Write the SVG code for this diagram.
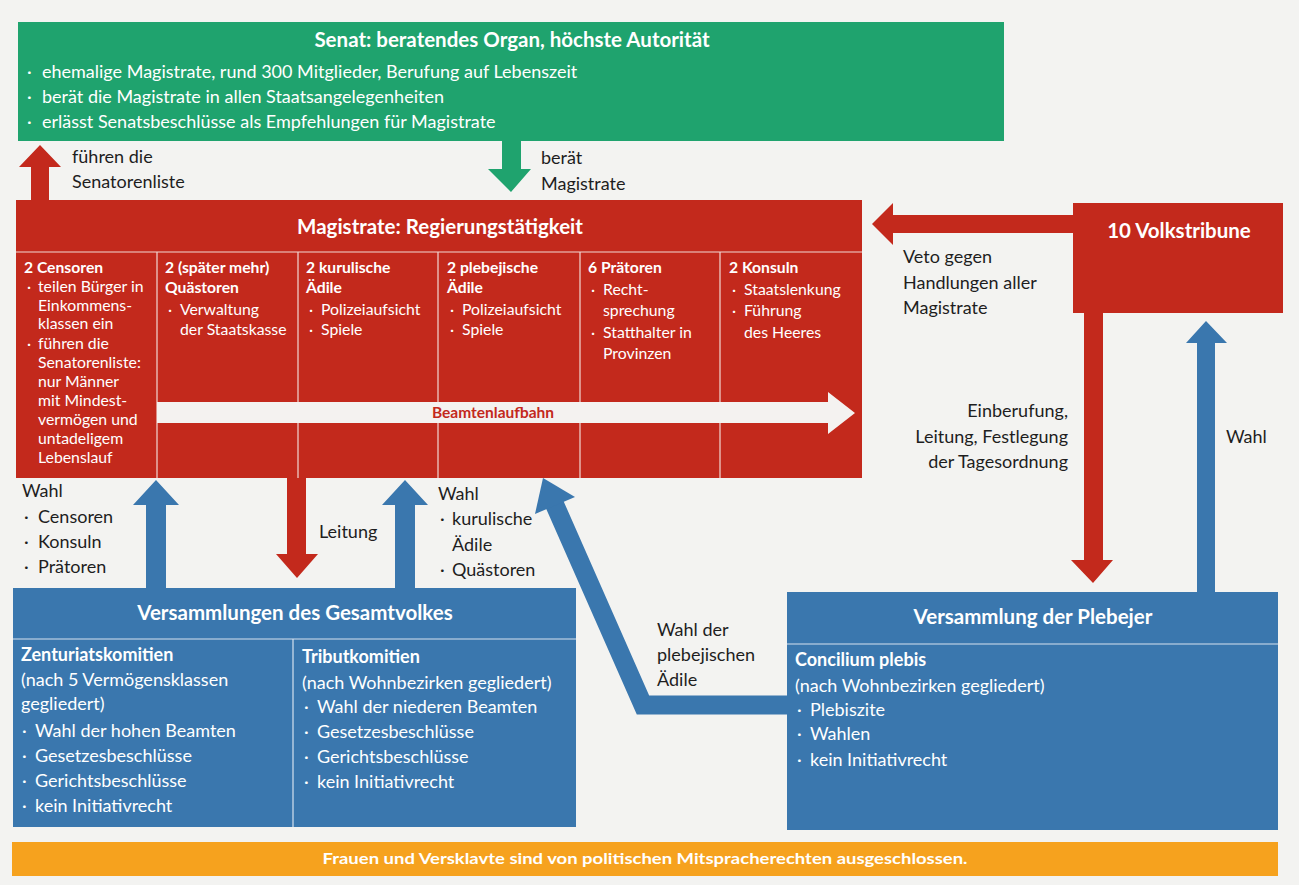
<svg xmlns="http://www.w3.org/2000/svg" width="1299" height="885" viewBox="0 0 1299 885">
<style>
text{font-family:Lato,"Noto Sans","Liberation Sans",sans-serif;}
.w{fill:#ffffff;}
.d{fill:#1e1e1e;}
.t{font-size:20.5px;font-weight:bold;fill:#ffffff;}
.b{font-size:18px;}
.s{font-size:15.8px;}
.h{font-size:15.7px;font-weight:bold;fill:#ffffff;}
.sep{stroke:#f1d9d4;stroke-width:1.2;fill:none;}
.sepb{stroke:#d5e2ee;stroke-width:1.2;fill:none;}
.red{fill:#c3291c;}
.blue{fill:#3a77ae;}
.green{fill:#1fa36e;}
</style>
<rect x="0" y="0" width="1299" height="885" fill="#f3f3f1"/>

<g id="connectors">
  <!-- Magistrate -> Senat (führen die Senatorenliste) -->
  <polygon class="red" points="31,201 31,167 19,167 40,145 61,167 49,167 49,201"/>
  <!-- Senat -> Magistrate (berät) -->
  <polygon class="green" points="502,140 521,140 521,169 531,169 511,192 488,169 502,169"/>
  <!-- Volkstribune -> Magistrate (Veto) -->
  <polygon class="red" points="1074,215 893,215 893,203 872,224 893,245 893,233 1074,233"/>
  <!-- Volkstribune -> Plebejer -->
  <polygon class="red" points="1084,312 1103,312 1103,560 1113,560 1093,583 1071,560 1084,560"/>
  <!-- Plebejer -> Volkstribune (Wahl) -->
  <polygon class="blue" points="1197,593 1197,343 1186,343 1206,321 1227,343 1215,343 1215,593"/>
  <!-- Magistrate -> Gesamtvolk (Leitung) -->
  <polygon class="red" points="287,477 306,477 306,554 318,554 297,578 276,554 287,554"/>
  <!-- Gesamtvolk -> Magistrate (Wahl) -->
  <polygon class="blue" points="146,589 146,505 133,505 156,480 179,505 166,505 166,589"/>
  <polygon class="blue" points="395,589 395,505 382,505 405,480 428,505 415,505 415,589"/>
  <!-- Plebejer -> plebejische Ädile -->
  <polyline points="788,705 643,705 554,503" fill="none" stroke="#3a77ae" stroke-width="19" stroke-linejoin="miter"/>
  <polygon class="blue" points="543,478 575,497 535,514"/>
</g>

<g id="senat">
  <rect class="green" x="18" y="22" width="986" height="119"/>
  <text class="t" x="512" y="47" text-anchor="middle">Senat: beratendes Organ, höchste Autorität</text>
  <text class="b w" x="27" y="78">·</text><text class="b w" x="42" y="78">ehemalige Magistrate, rund 300 Mitglieder, Berufung auf Lebenszeit</text>
  <text class="b w" x="27" y="103">·</text><text class="b w" x="42" y="103">berät die Magistrate in allen Staatsangelegenheiten</text>
  <text class="b w" x="27" y="128">·</text><text class="b w" x="42" y="128">erlässt Senatsbeschlüsse als Empfehlungen für Magistrate</text>
</g>

<g id="labels-top">
  <text class="b d" x="72" y="163">führen die</text>
  <text class="b d" x="72" y="188">Senatorenliste</text>
  <text class="b d" x="541" y="164">berät</text>
  <text class="b d" x="541" y="190">Magistrate</text>
</g>

<g id="magistrate">
  <rect class="red" x="16" y="200" width="846" height="278"/>
  <text class="t" x="440" y="234" text-anchor="middle">Magistrate: Regierungstätigkeit</text>
  <line class="sep" x1="16" y1="252" x2="862" y2="252"/>
  <line class="sep" x1="157" y1="252" x2="157" y2="478"/>
  <line class="sep" x1="298" y1="252" x2="298" y2="478"/>
  <line class="sep" x1="438" y1="252" x2="438" y2="478"/>
  <line class="sep" x1="580" y1="252" x2="580" y2="478"/>
  <line class="sep" x1="720" y1="252" x2="720" y2="478"/>
  <!-- Beamtenlaufbahn arrow -->
  <polygon fill="#f4f2f0" points="157,402 828,402 828,392 855,413 828,434 828,423 157,423"/>
  <text x="493" y="418" text-anchor="middle" font-size="15.5" font-weight="bold" fill="#c3291c">Beamtenlaufbahn</text>

  <g id="censoren">
    <text class="h" x="24" y="273">2 Censoren</text>
    <text class="s w" x="27" y="292">·</text><text class="s w" x="38" y="292">teilen Bürger in</text>
    <text class="s w" x="38" y="311">Einkommens-</text>
    <text class="s w" x="38" y="329">klassen ein</text>
    <text class="s w" x="27" y="349">·</text><text class="s w" x="38" y="349">führen die</text>
    <text class="s w" x="38" y="368">Senatorenliste:</text>
    <text class="s w" x="38" y="387">nur Männer</text>
    <text class="s w" x="38" y="406">mit Mindest-</text>
    <text class="s w" x="38" y="425">vermögen und</text>
    <text class="s w" x="38" y="444">untadeligem</text>
    <text class="s w" x="38" y="463">Lebenslauf</text>
  </g>
  <g id="quaestoren">
    <text class="h" x="165" y="273">2 (später mehr)</text>
    <text class="h" x="165" y="293">Quästoren</text>
    <text class="s w" x="168" y="315">·</text><text class="s w" x="180" y="315">Verwaltung</text>
    <text class="s w" x="180" y="335">der Staatskasse</text>
  </g>
  <g id="kurulische-aedile">
    <text class="h" x="306" y="273">2 kurulische</text>
    <text class="h" x="306" y="293">Ädile</text>
    <text class="s w" x="309" y="315">·</text><text class="s w" x="321" y="315">Polizeiaufsicht</text>
    <text class="s w" x="309" y="335">·</text><text class="s w" x="321" y="335">Spiele</text>
  </g>
  <g id="plebejische-aedile">
    <text class="h" x="447" y="273">2 plebejische</text>
    <text class="h" x="447" y="293">Ädile</text>
    <text class="s w" x="450" y="315">·</text><text class="s w" x="462" y="315">Polizeiaufsicht</text>
    <text class="s w" x="450" y="335">·</text><text class="s w" x="462" y="335">Spiele</text>
  </g>
  <g id="praetoren">
    <text class="h" x="588" y="273">6 Prätoren</text>
    <text class="s w" x="591" y="295">·</text><text class="s w" x="603" y="295">Recht-</text>
    <text class="s w" x="603" y="316">sprechung</text>
    <text class="s w" x="591" y="338">·</text><text class="s w" x="603" y="338">Statthalter in</text>
    <text class="s w" x="603" y="359">Provinzen</text>
  </g>
  <g id="konsuln">
    <text class="h" x="729" y="273">2 Konsuln</text>
    <text class="s w" x="732" y="295">·</text><text class="s w" x="744" y="295">Staatslenkung</text>
    <text class="s w" x="732" y="316">·</text><text class="s w" x="744" y="316">Führung</text>
    <text class="s w" x="744" y="338">des Heeres</text>
  </g>
</g>

<g id="volkstribune">
  <rect class="red" x="1073" y="203" width="210" height="110"/>
  <text class="t" x="1179" y="238" text-anchor="middle">10 Volkstribune</text>
</g>

<g id="labels-right">
  <text class="b d" x="903" y="263">Veto gegen</text>
  <text class="b d" x="903" y="289">Handlungen aller</text>
  <text class="b d" x="903" y="314">Magistrate</text>
  <text class="b d" x="1068" y="417" text-anchor="end">Einberufung,</text>
  <text class="b d" x="1068" y="443" text-anchor="end">Leitung, Festlegung</text>
  <text class="b d" x="1068" y="468" text-anchor="end">der Tagesordnung</text>
  <text class="b d" x="1226" y="443">Wahl</text>
</g>

<g id="labels-middle">
  <text class="b d" x="22" y="497">Wahl</text>
  <text class="b d" x="24" y="523">·</text><text class="b d" x="38" y="523">Censoren</text>
  <text class="b d" x="24" y="548">·</text><text class="b d" x="38" y="548">Konsuln</text>
  <text class="b d" x="24" y="573">·</text><text class="b d" x="38" y="573">Prätoren</text>
  <text class="b d" x="319" y="538">Leitung</text>
  <text class="b d" x="438" y="500">Wahl</text>
  <text class="b d" x="440" y="525">·</text><text class="b d" x="452" y="525">kurulische</text>
  <text class="b d" x="452" y="551">Ädile</text>
  <text class="b d" x="440" y="576">·</text><text class="b d" x="452" y="576">Quästoren</text>
  <text class="b d" x="657" y="636">Wahl der</text>
  <text class="b d" x="657" y="661">plebejischen</text>
  <text class="b d" x="657" y="686">Ädile</text>
</g>

<g id="gesamtvolk">
  <rect class="blue" x="13" y="588" width="563" height="239"/>
  <text class="t" x="295" y="620" text-anchor="middle">Versammlungen des Gesamtvolkes</text>
  <line class="sepb" x1="13" y1="639" x2="576" y2="639"/>
  <line class="sepb" x1="293" y1="639" x2="293" y2="827"/>
  <g id="zenturiatskomitien">
    <text class="b w" x="21" y="661" font-weight="bold">Zenturiatskomitien</text>
    <text class="b w" x="21" y="686">(nach 5 Vermögensklassen</text>
    <text class="b w" x="21" y="710">gegliedert)</text>
    <text class="b w" x="22" y="737">·</text><text class="b w" x="35" y="737">Wahl der hohen Beamten</text>
    <text class="b w" x="22" y="762">·</text><text class="b w" x="35" y="762">Gesetzesbeschlüsse</text>
    <text class="b w" x="22" y="787">·</text><text class="b w" x="35" y="787">Gerichtsbeschlüsse</text>
    <text class="b w" x="22" y="812">·</text><text class="b w" x="35" y="812">kein Initiativrecht</text>
  </g>
  <g id="tributkomitien">
    <text class="b w" x="302" y="663" font-weight="bold">Tributkomitien</text>
    <text class="b w" x="302" y="689">(nach Wohnbezirken gegliedert)</text>
    <text class="b w" x="304" y="713">·</text><text class="b w" x="317" y="713">Wahl der niederen Beamten</text>
    <text class="b w" x="304" y="738">·</text><text class="b w" x="317" y="738">Gesetzesbeschlüsse</text>
    <text class="b w" x="304" y="763">·</text><text class="b w" x="317" y="763">Gerichtsbeschlüsse</text>
    <text class="b w" x="304" y="788">·</text><text class="b w" x="317" y="788">kein Initiativrecht</text>
  </g>
</g>

<g id="plebejer">
  <rect class="blue" x="787" y="592" width="491" height="238"/>
  <text class="t" x="1033" y="624" text-anchor="middle">Versammlung der Plebejer</text>
  <line class="sepb" x1="787" y1="644" x2="1278" y2="644"/>
  <text class="b w" x="795" y="666" font-weight="bold">Concilium plebis</text>
  <text class="b w" x="795" y="692">(nach Wohnbezirken gegliedert)</text>
  <text class="b w" x="797" y="716">·</text><text class="b w" x="810" y="716">Plebiszite</text>
  <text class="b w" x="797" y="740">·</text><text class="b w" x="810" y="740">Wahlen</text>
  <text class="b w" x="797" y="766">·</text><text class="b w" x="810" y="766">kein Initiativrecht</text>
</g>

<g id="hinweis">
  <rect x="12" y="842" width="1266" height="34" fill="#f6a21e"/>
  <text x="645" y="864" text-anchor="middle" font-size="15" font-weight="bold" fill="#ffffff" textLength="645" lengthAdjust="spacingAndGlyphs">Frauen und Versklavte sind von politischen Mitspracherechten ausgeschlossen.</text>
</g>
</svg>
